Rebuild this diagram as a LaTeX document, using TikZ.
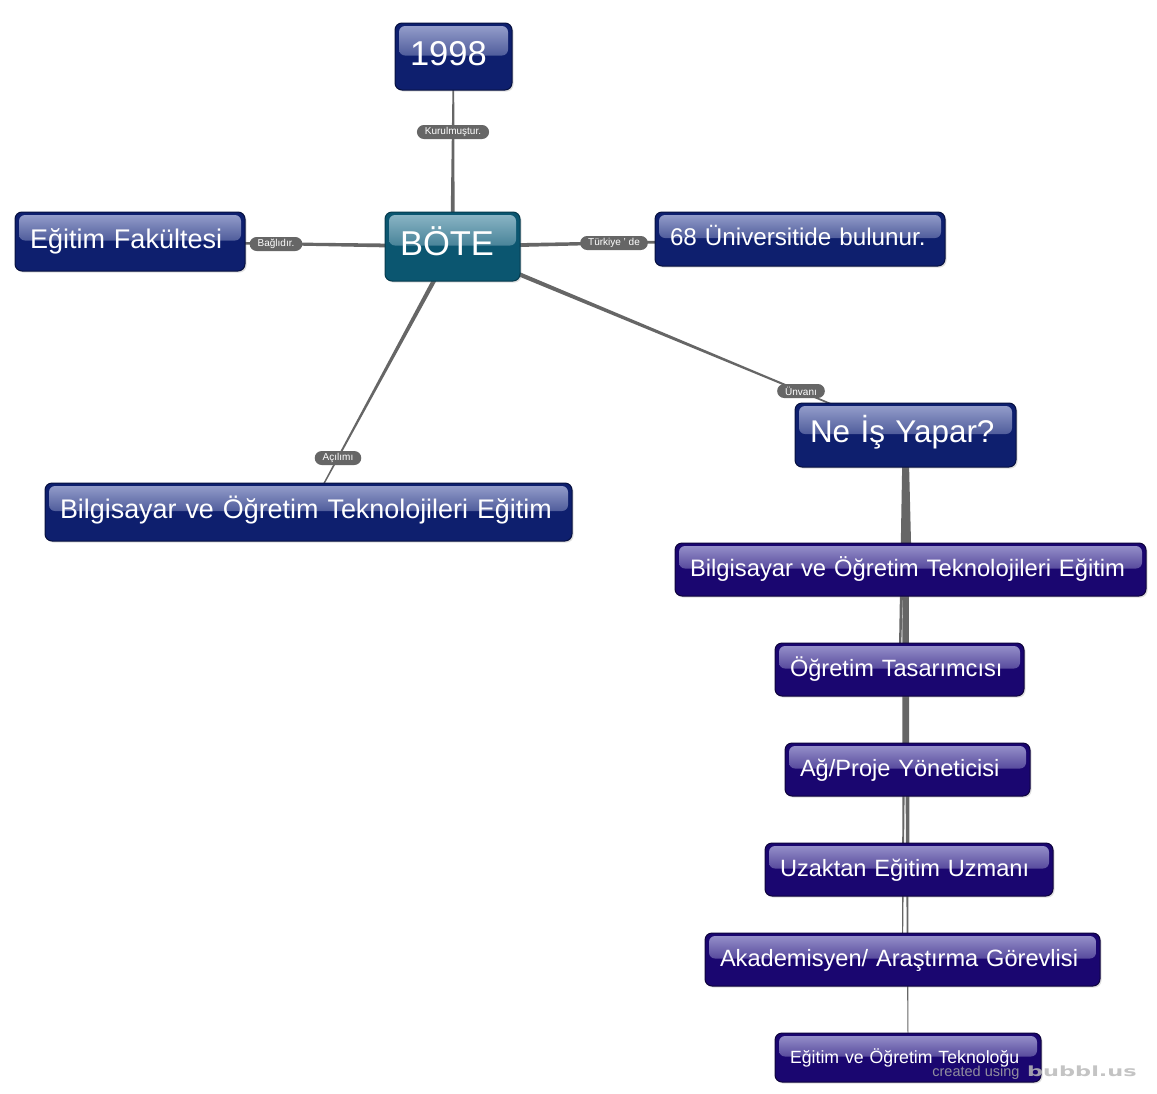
\documentclass[tikz,border=0pt]{standalone}
\usepackage{fontspec}
\setmainfont{Liberation Sans}
\newfontfamily\wmfont{DejaVu Sans}
\usetikzlibrary{calc,shadows}
\definecolor{navy}{HTML}{0E1F6E}
\definecolor{navyb}{HTML}{06103F}
\definecolor{navyg}{HTML}{9AA3CF}
\definecolor{purp}{HTML}{1A0670}
\definecolor{purpb}{HTML}{0E033C}
\definecolor{purpg}{HTML}{9C97CF}
\definecolor{teal}{HTML}{0B5670}
\definecolor{tealb}{HTML}{063B4E}
\definecolor{tealg}{HTML}{8FB8C8}
\definecolor{linkc}{HTML}{666666}
\definecolor{pill}{HTML}{666666}
\pgfdeclarelayer{background}
\pgfsetlayers{background,main}
\newcommand\conn[4]{%
  \fill[linkc] ($(#1)!#3!90:(#2)$) -- ($(#2)!#4!-90:(#1)$) -- ($(#2)!#4!90:(#1)$) -- ($(#1)!#3!-90:(#2)$) -- cycle;}
\tikzset{
  bubble/.style n args={3}{draw=#2, line width=1pt, fill=#1, rounded corners=7pt,
    drop shadow={opacity=0.25, shadow xshift=1.5pt, shadow yshift=-1.5pt},
    text=white, inner xsep=15pt, inner ysep=0pt, align=left,
    text height=1.42em, text depth=0.07em,
    path picture={\fill[top color=#3, bottom color=#1, middle color=#1!55!#3, rounded corners=6pt]
      ([xshift=4pt,yshift=-3pt]path picture bounding box.north west) rectangle
      ([xshift=-4pt,yshift=1pt]path picture bounding box.east);}},
  bluebox/.style={bubble={navy}{navyb}{navyg}},
  purpbox/.style={bubble={purp}{purpb}{purpg}},
  tealbox/.style={bubble={teal}{tealb}{tealg}},
  big/.style={text height=1.88em},
  pilllabel/.style={fill=pill, text=white, rounded corners=7pt, inner xsep=8pt, inner ysep=0pt,
    minimum height=14pt, font=\fontsize{10}{11}\selectfont},
  fs/.style={font=\fontsize{#1}{#1}\selectfont}
}
\begin{document}
\begin{tikzpicture}[x=1pt,y=-1pt]
\useasboundingbox (0,0) rectangle (1157,1093);
% nodes
\node[bluebox, fs=34.5, big, text width=87pt, minimum height=67pt] (y1998) at (453.5,56.5) {1998};
\node[tealbox, fs=34.5, big, text width=105pt, minimum height=69pt] (bote) at (452.5,246.5) {BÖTE};
\node[bluebox, fs=27, text width=200pt, minimum height=59pt] (ef) at (130,241.5) {Eğitim Fakültesi};
\node[bluebox, fs=24.2, text width=260pt, minimum height=54pt] (uni) at (800,239) {68 Üniversitide bulunur.};
\node[bluebox, fs=31.4, text width=191pt, minimum height=64pt, text height=1.58em] (ne) at (905.5,435) {Ne İş Yapar?};
\node[bluebox, fs=26.9, text width=497pt, minimum height=58pt] (bl) at (308.5,512) {Bilgisayar ve Öğretim Teknolojileri Eğitim};
\node[purpbox, fs=23.8, text width=441pt, minimum height=53pt] (br) at (910.5,569.5) {Bilgisayar ve Öğretim Teknolojileri Eğitim};
\node[purpbox, fs=23.6, text width=219pt, minimum height=53pt] (ot) at (899.5,669.5) {Öğretim Tasarımcısı};
\node[purpbox, fs=23.6, text width=215pt, minimum height=53pt] (ag) at (907.5,769.5) {Ağ/Proje Yöneticisi};
\node[purpbox, fs=23.6, text width=258pt, minimum height=53pt] (uz) at (909,869.5) {Uzaktan Eğitim Uzmanı};
\node[purpbox, fs=23.6, text width=365pt, minimum height=53pt] (ak) at (902.5,959.5) {Akademisyen/ Araştırma Görevlisi};
\node[purpbox, fs=17.7, text width=236pt, minimum height=49pt, text height=1.2em] (et) at (908,1057.5) {Eğitim ve Öğretim Teknoloğu};
% connectors
\begin{pgfonlayer}{background}
\fill[white] (0,0) rectangle (1157,1093);
\conn{bote}{y1998}{2.2pt}{0.6pt}
\conn{bote}{ef}{2.2pt}{0.8pt}
\conn{bote}{uni}{2.2pt}{0.8pt}
\conn{bote}{ne}{2.4pt}{0.5pt}
\conn{bote}{bl}{2.4pt}{0.5pt}
\conn{ne}{br}{2.8pt}{1.2pt}
\conn{ne}{ot}{2.8pt}{0.9pt}
\conn{ne}{ag}{2.8pt}{0.7pt}
\conn{ne}{uz}{2.8pt}{0.5pt}
\conn{ne}{ak}{2.8pt}{0.4pt}
\conn{ne}{et}{2.8pt}{0.3pt}
\end{pgfonlayer}
% labels
\node[pilllabel] (l1) at (453,132) {Kurulmuştur.};
\node[pilllabel] (l2) at (276,244) {Bağlıdır.};
\node[pilllabel] (l3) at (614,243) {Türkiye ' de};
\node[pilllabel] (l4) at (801,391) {Ünvanı};
\node[pilllabel] (l5) at (338,458) {Açılımı};
% watermark
\node[text=black!35, opacity=0.85, font=\fontsize{14.5}{15}\selectfont, anchor=base east] (wm1) at (1023,1076) {created using};
\node[text=black!27, opacity=0.85, font=\wmfont\bfseries\fontsize{14}{15}\selectfont, anchor=base west, inner xsep=0pt] (wm2) at (1027,1076) {\scalebox{1.6}[1]{bubbl.us}};
\end{tikzpicture}
\end{document}
